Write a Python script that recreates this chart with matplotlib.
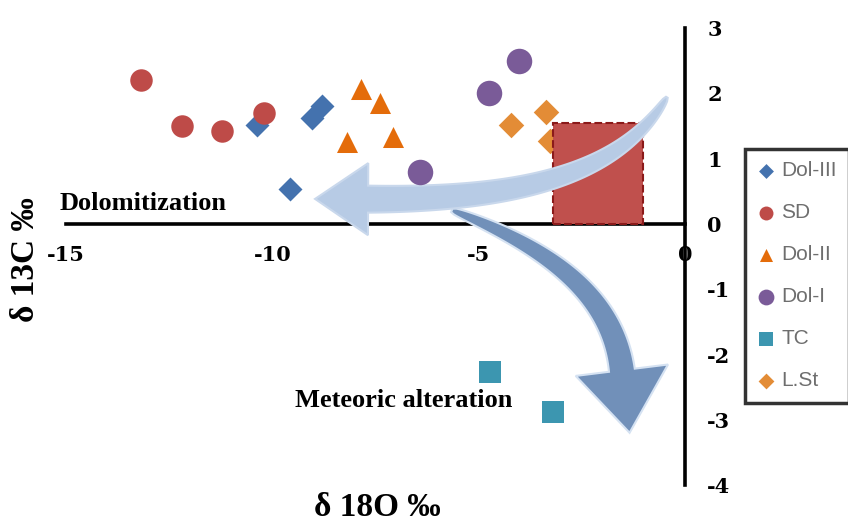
import numpy as np
import matplotlib
matplotlib.use("Agg")
import matplotlib.pyplot as plt
from matplotlib.patches import Polygon, Rectangle

# data (delta 18O, delta 13C)
dol3_x = [-10.37, -9.04, -8.80, -9.57]
dol3_y = [1.52, 1.62, 1.81, 0.54]
sd_x = [-13.19, -12.19, -11.22, -10.20]
sd_y = [2.21, 1.50, 1.42, 1.70]
dol2_x = [-7.85, -7.39, -8.19, -7.08]
dol2_y = [2.07, 1.86, 1.26, 1.33]
dol1_x = [-6.42, -4.02, -4.74]
dol1_y = [0.79, 2.50, 2.01]
tc_x = [-4.72, -3.20]
tc_y = [-2.27, -2.88]
lst_x = [-3.38, -4.22, -3.26]
lst_y = [1.72, 1.52, 1.27]

# marine field box
box_x = [-3.2, -1.02]
box_y = [0.0, 1.55]

xticks = [-15, -10, -5, 0]
yticks = [-4, -3, -2, -1, 0, 1, 2, 3]

serif = "Liberation Serif"

fig = plt.figure(figsize=(8.48, 5.23), dpi=100)
ax = fig.add_axes([0, 0, 1, 1])
ax.set_xlim(-16.6, 3.95)
ax.set_ylim(-4.58, 3.43)

# axes crossing at zero
ax.spines["top"].set_visible(False)
ax.spines["left"].set_visible(False)
ax.spines["bottom"].set_position(("data", 0))
ax.spines["bottom"].set_bounds(-15, 0)
ax.spines["right"].set_position(("data", 0))
ax.spines["right"].set_bounds(-4, 3)
for s in ["bottom", "right"]:
    ax.spines[s].set_linewidth(2.6)
    ax.spines[s].set_zorder(2)
ax.yaxis.set_ticks_position("right")
ax.set_xticks(xticks)
ax.set_yticks(yticks)
ax.set_xticklabels([str(v) for v in xticks])
ax.set_yticklabels([str(v) for v in yticks])
ax.tick_params(axis="x", length=0, pad=15)
ax.tick_params(axis="y", length=0, pad=16)
for lab in ax.get_xticklabels() + ax.get_yticklabels():
    lab.set_fontfamily("DejaVu Serif")
    lab.set_fontweight("bold")
    lab.set_fontsize(15)
for lab in ax.get_yticklabels():
    lab.set_horizontalalignment("left")

# red box
ax.add_patch(Rectangle((box_x[0], box_y[0]), box_x[1] - box_x[0], box_y[1] - box_y[0],
                       facecolor="#C0504D", edgecolor="#8B1A1A", linestyle="--",
                       linewidth=1.5, zorder=4))


def curved_arrow(pts, w0, w1, head_w, head_len, color, edge, z):
    # cubic bezier band that widens toward a triangular head, built in pixels
    P = ax.transData.transform(np.array(pts))
    t = np.linspace(0, 1, 80)[:, None]
    c = ((1 - t) ** 3) * P[0] + 3 * t * (1 - t) ** 2 * P[1] + 3 * t ** 2 * (1 - t) * P[2] + t ** 3 * P[3]
    d = 3 * (1 - t) ** 2 * (P[1] - P[0]) + 6 * t * (1 - t) * (P[2] - P[1]) + 3 * t ** 2 * (P[3] - P[2])
    d = d / np.linalg.norm(d, axis=1)[:, None]
    n = np.column_stack([-d[:, 1], d[:, 0]])
    w = w0 + (w1 - w0) * np.sqrt(t)
    left = c + n * w / 2
    right = c - n * w / 2
    end, de, ne = c[-1], d[-1], n[-1]
    head = [end + ne * head_w / 2, end + de * head_len, end - ne * head_w / 2]
    poly = np.vstack([left, head, right[::-1]])
    poly = ax.transData.inverted().transform(poly)
    ax.add_patch(Polygon(poly, closed=True, facecolor=color, edgecolor=edge,
                         linewidth=1.5, zorder=z))


# meteoric alteration arrow (under), dolomitization arrow (over)
curved_arrow([(-5.65, 0.21), (-3.51, -0.32), (-1.77, -1.01), (-1.53, -2.24)],
             4, 26, 93, 63, "#7190B9", "#D5E2F2", 5)
curved_arrow([(-0.44, 1.94), (-1.58, 0.75), (-4.0, 0.37), (-7.68, 0.38)],
             2, 27, 72, 53, "#B7CBE5", "#C9D8EC", 6)

# points
ax.scatter(dol3_x, dol3_y, marker="D", s=149, color="#4472AE", linewidths=0, zorder=7, label="Dol-III")
ax.scatter(sd_x, sd_y, marker="o", s=262, color="#BE4B48", linewidths=0, zorder=7, label="SD")
ax.scatter(dol2_x, dol2_y, marker="^", s=229, color="#E46C0A", linewidths=0, zorder=7, label="Dol-II")
ax.scatter(dol1_x, dol1_y, marker="o", s=337, color="#7A5B98", linewidths=0, zorder=7, label="Dol-I")
ax.scatter(tc_x, tc_y, marker="s", s=274, color="#3C96B0", linewidths=0, zorder=7, label="TC")
ax.scatter(lst_x, lst_y, marker="D", s=169, color="#E38C36", linewidths=0, zorder=3, label="L.St")

# labels
ax.text(-13.13, 0.31, "Dolomitization", family=serif, fontweight="bold", fontsize=19,
        ha="center", va="center", zorder=8)
ax.text(-6.81, -2.70, "Meteoric alteration", family=serif, fontweight="bold", fontsize=19,
        ha="center", va="center", zorder=8)
ax.text(-7.46, -4.35, "δ 18O ‰", family=serif, fontweight="bold", fontsize=24,
        ha="center", va="center")
ax.text(-15.99, -0.54, "δ 13C ‰", family=serif, fontweight="bold", fontsize=24,
        ha="center", va="center", rotation=90)

leg = ax.legend(loc="upper left", bbox_to_anchor=(745 / 848, 1 - 149 / 523),
                frameon=True, fancybox=False, markerscale=0.62, fontsize=15,
                labelspacing=1.1, handlelength=0.8, handletextpad=0.35,
                borderpad=0.6, borderaxespad=0)
leg.get_frame().set_edgecolor("black")
leg.get_frame().set_linewidth(2.5)
for txt in leg.get_texts():
    txt.set_color("#6E6E6E")
    txt.set_fontfamily("Liberation Sans")

fig.savefig("out.png", dpi=100)
